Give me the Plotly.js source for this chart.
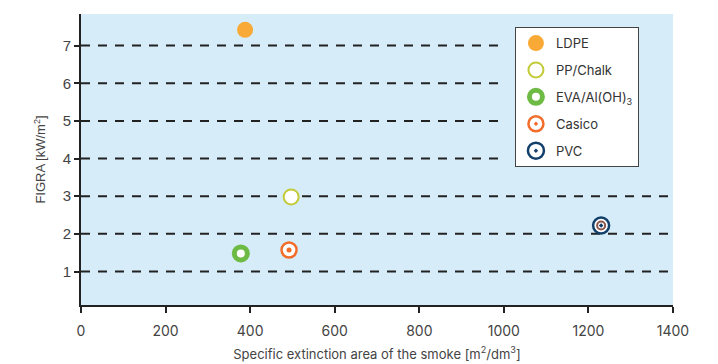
<!DOCTYPE html>
<html><head><meta charset="utf-8">
<script src="https://cdn.plot.ly/plotly-3.0.1.min.js"></script>
<style>html,body{margin:0;padding:0;background:#fff}#chart{width:718px;height:364px}</style>
</head><body><div id="chart"></div>
<script>
const names = ["LDPE", "PP/Chalk", "EVA/Al(OH)<sub>3</sub>", "Casico", "PVC"];
const xVals = [388, 497, 378, 492, 1230];
const yVals = [7.42, 2.98, 1.48, 1.57, 2.22];
const gridY = [1, 2, 3, 4, 5, 6, 7];
const gridEnd = [1390, 1390, 1390, 1000, 1000, 1000, 1000];
const xTicks = [0, 200, 400, 600, 800, 1000, 1200, 1400];
const yTicks = [1, 2, 3, 4, 5, 6, 7];

const markers = [
  {symbol: "circle", size: 16, color: "#F9A935", line: {width: 0}},
  {symbol: "circle", size: 15, color: "#ffffff", line: {width: 2, color: "#C3CB3A"}},
  {symbol: "circle", size: 13, color: "#ffffff", line: {width: 5, color: "#6DBB45"}},
  {symbol: "circle-dot", size: 15, color: "#ffffff", line: {width: 2.5, color: "#F26C2A"}},
  {symbol: "circle-dot", size: 16, color: "#ffffff", line: {width: 2.5, color: "#133F6B"}}
];

const traces = names.map((n, i) => ({
  type: "scatter", mode: "markers", name: n,
  x: [xVals[i]], y: [yVals[i]],
  marker: markers[i], legendgroup: "g" + i, cliponaxis: false
}));
// inner ring of the PVC bullseye
traces.push({
  type: "scatter", mode: "markers", showlegend: false,
  x: [xVals[4]], y: [yVals[4]],
  marker: {symbol: "circle-open", size: 8, line: {width: 2, color: "#133F6B"}},
  hoverinfo: "skip"
});
// centre dot of the Casico marker
traces.push({
  type: "scatter", mode: "markers", showlegend: false,
  x: [xVals[3]], y: [yVals[3]],
  marker: {symbol: "circle", size: 5, color: "#F26C2A"},
  hoverinfo: "skip"
});

const shapes = gridY.map((g, i) => ({
  type: "line", xref: "x", yref: "y", x0: 0, x1: gridEnd[i], y0: g, y1: g,
  line: {color: "#222", width: 2, dash: "9px,8px"}, layer: "below"
}));

const layout = {
  width: 718, height: 364,
  margin: {l: 81, r: 45, t: 14, b: 59},
  paper_bgcolor: "#ffffff", plot_bgcolor: "#D6ECF8",
  font: {family: "Liberation Sans, Arial, sans-serif", size: 13, color: "#444"},
  showlegend: true,
  legend: {
    x: 0.733, y: 0.955, xanchor: "left", yanchor: "top",
    bgcolor: "#ffffff", bordercolor: "#444", borderwidth: 1,
    font: {family: "Inter, Liberation Sans, sans-serif", size: 13, color: "#333"},
    tracegroupgap: 7, entrywidth: 112
  },
  xaxis: {
    range: [0, 1400], tickvals: xTicks, ticktext: xTicks.map(String),
    showgrid: false, zeroline: false, showline: true, linecolor: "#222", linewidth: 2,
    ticks: "outside", ticklen: 6, tickwidth: 2, tickcolor: "#222", ticklabelstandoff: 6,
    tickfont: {family: "Inter, Liberation Sans, sans-serif", size: 14, color: "#444"},
    title: {text: "Specific extinction area of the smoke [m<sup>2</sup>/dm<sup>3</sup>]",
            font: {family: "Inter, Liberation Sans, sans-serif", size: 13, color: "#444"}, standoff: 12}
  },
  yaxis: {
    range: [0.11, 7.84], tickvals: yTicks,
    showgrid: false, zeroline: false, showline: true, linecolor: "#222", linewidth: 2,
    ticks: "outside", ticklen: 5, tickwidth: 2, tickcolor: "#222",
    tickfont: {family: "Liberation Sans, Arial, sans-serif", size: 15, color: "#444"},
    title: {text: "FIGRA [kW/m<sup>2</sup>]",
            font: {family: "Liberation Sans, Arial, sans-serif", size: 13, color: "#444"}, standoff: 14}
  },
  shapes: shapes
};

Plotly.newPlot("chart", traces, layout, {displayModeBar: false, staticPlot: true});
</script></body></html>
